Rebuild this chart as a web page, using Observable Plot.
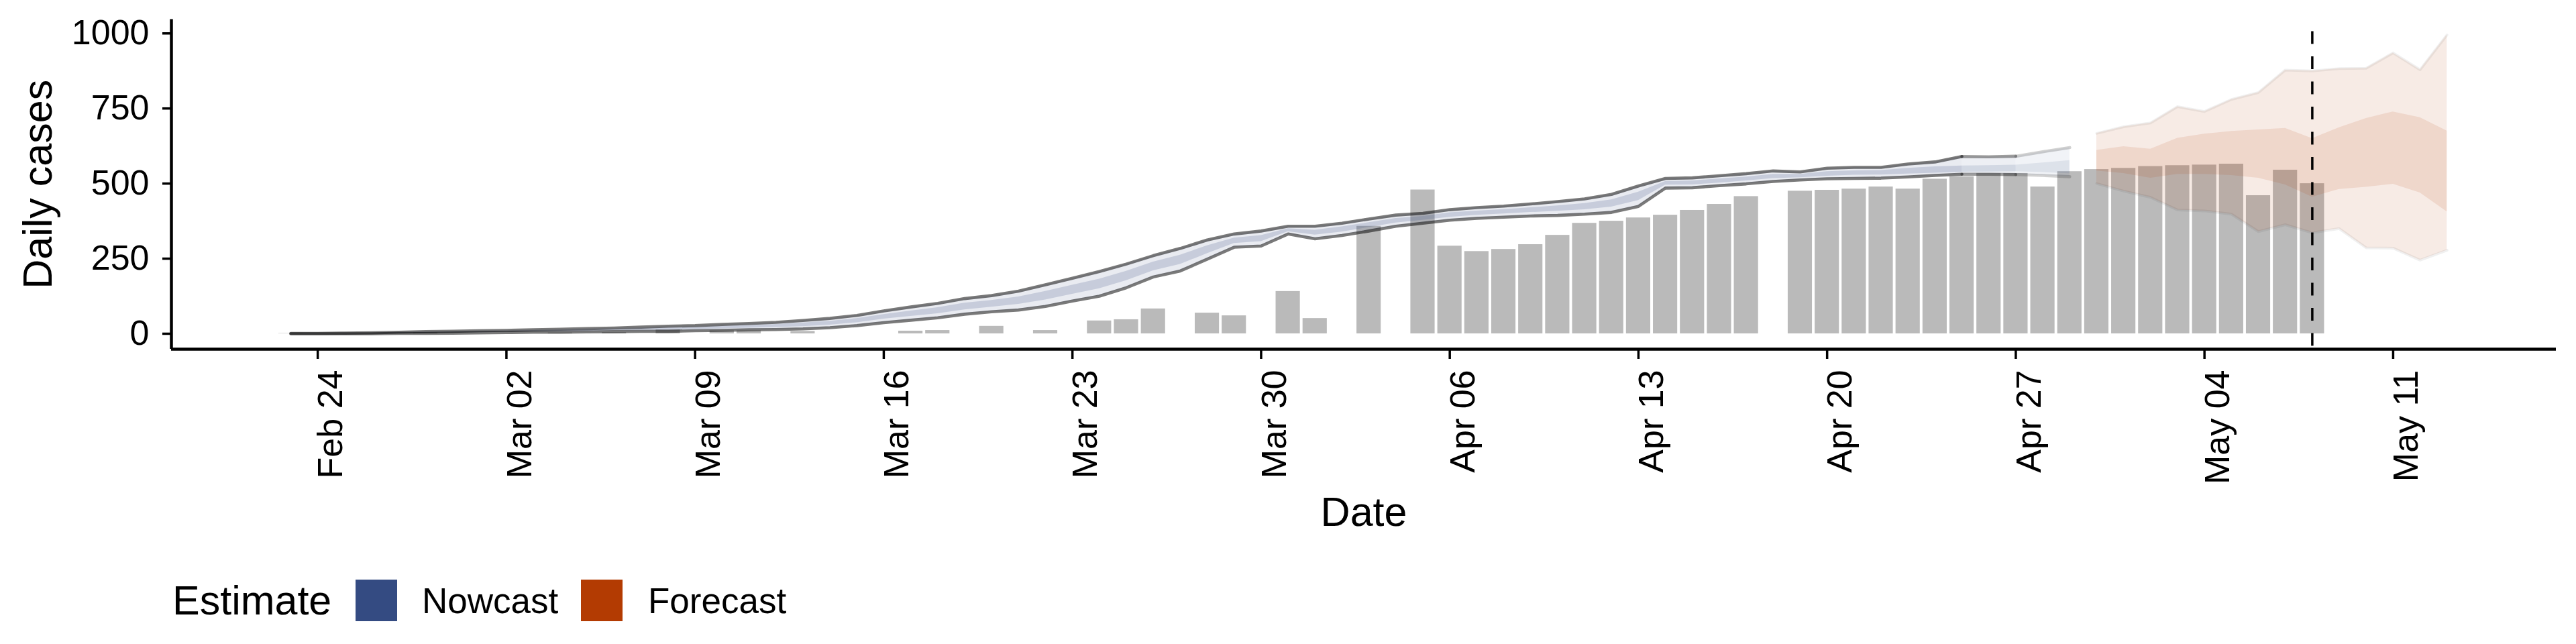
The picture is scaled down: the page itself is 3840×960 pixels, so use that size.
<!DOCTYPE html>
<html>
<head>
<meta charset="utf-8">
<script src="https://cdn.jsdelivr.net/npm/d3@7"></script>
<script src="https://cdn.jsdelivr.net/npm/@observablehq/plot@0.6"></script>
<style>
  html, body { margin: 0; padding: 0; background: #ffffff; }
  #chart { position: relative; width: 3840px; height: 960px; font-family: "Liberation Sans", Arial, sans-serif; color: #000; }
  #legend { position: absolute; left: 0; top: 850px; width: 3840px; height: 110px; }
  #legend .t { position: absolute; white-space: nowrap; line-height: 1; }
  #legend .k { position: absolute; width: 62px; height: 62px; }
</style>
</head>
<body>
<div id="chart"></div>
<script>
// ---------------- data ----------------
const barDates = [
  "2020-02-23","2020-02-28","2020-03-04","2020-03-06","2020-03-08","2020-03-10","2020-03-11","2020-03-13",
  "2020-03-17","2020-03-18","2020-03-20","2020-03-22","2020-03-24","2020-03-25","2020-03-26","2020-03-28",
  "2020-03-29","2020-03-31","2020-04-01","2020-04-03","2020-04-05","2020-04-06","2020-04-07","2020-04-08",
  "2020-04-09","2020-04-10","2020-04-11","2020-04-12","2020-04-13","2020-04-14","2020-04-15","2020-04-16",
  "2020-04-17","2020-04-19","2020-04-20","2020-04-21","2020-04-22","2020-04-23","2020-04-24","2020-04-25",
  "2020-04-26","2020-04-27","2020-04-28","2020-04-29","2020-04-30","2020-05-01","2020-05-02","2020-05-03",
  "2020-05-04","2020-05-05","2020-05-06","2020-05-07","2020-05-08"
];
const barCases = [
  1, 3, 3, 4, 13, 10, 10, 8,
  9, 11, 25, 11, 43, 47, 83, 69,
  60, 141, 51, 358, 479, 292, 274, 281,
  297, 328, 368, 375, 386, 395, 411, 431,
  457, 475, 478, 482, 489, 482, 515, 523,
  534, 534, 489, 540, 547, 551, 557, 560,
  562, 565, 460, 545, 500
];

// Nowcast: one value per day from nowcastStart (Feb 23) to Apr 29
const nowcastStart = "2020-02-23";
const nowHi90 = [1,1,2,3,5,7,8,10,11,13, 15,17,19,22,25,27,31,34,38,44, 51,61,76,89,101,117,127,142,163,185,
  207,232,260,284,312,332,342,358,358,368, 382,395,401,413,420,425,432,440,449,464, 492,517,519,526,533,542,539,551,554,554,
  565,572,590,589,591,606,620];
const nowLo90 = [0,0,0,0,1,1,2,3,4,5, 5,6,7,8,8,10,11,13,14,16, 20,27,37,45,53,65,73,79,91,109,
  125,153,189,209,248,288,292,332,316,327, 342,358,368,378,384,388,392,394,398,404, 424,485,486,493,499,507,512,516,517,518,
  522,527,531,531,530,527,523];
const nowHi50 = [1,1,1,2,4,5,6,8,9,11, 12,14,15,18,20,22,25,28,31,36, 42,51,64,76,87,102,111,123,141,162,
  182,208,239,262,293,319,327,350,345,356, 370,384,391,403,409,414,420,426,434,446, 472,507,509,516,522,531,531,540,543,544,
  551,556,559,560,562,569,577];
const nowLo50 = [0,0,1,1,2,3,4,5,6,7, 8,9,11,12,13,15,17,19,21,24, 29,37,49,58,67,80,89,98,113,132,
  150,177,210,231,267,301,307,340,329,339, 354,369,378,388,395,399,404,408,413,422, 444,495,496,502,509,517,520,525,528,529,
  532,535,538,539,540,537,533];
// estimate / partial-data segments of the nowcast (date ranges)
const nowSegFrom = ["2020-02-23", "2020-04-25", "2020-04-27"];
const nowSegTo   = ["2020-04-25", "2020-04-27", "2020-04-29"];

// Forecast
const foreDates = ["2020-04-30","2020-05-01","2020-05-02","2020-05-03","2020-05-04","2020-05-05","2020-05-06",
  "2020-05-07","2020-05-08","2020-05-09","2020-05-10","2020-05-11","2020-05-12","2020-05-13"];
const foreHi90 = [667, 689, 702, 756, 740, 780, 803, 878, 875, 883, 884, 935, 879, 995];
const foreLo90 = [500, 475, 454, 412, 409, 398, 340, 363, 336, 350, 286, 285, 245, 278];
const foreHi50 = [611, 623, 615, 651, 665, 674, 679, 684, 650, 686, 717, 739, 720, 675];
const foreLo50 = [542, 534, 518, 531, 531, 527, 518, 496, 455, 481, 488, 498, 469, 406];

const vlineDate = "2020-05-08";
const xTickDates = ["2020-02-24","2020-03-02","2020-03-09","2020-03-16","2020-03-23","2020-03-30",
  "2020-04-06","2020-04-13","2020-04-20","2020-04-27","2020-05-04","2020-05-11"];
const yTicks = [0, 250, 500, 750, 1000];
const legendLabels = ["Nowcast", "Forecast"];

// ---------------- styling ----------------
const BLUE = "#344b82", ORANGE = "#b33b02", BAR = "#bababa";
const segStyle = [
  {outer: 0.11, inner: 0.19, line: 0.52},
  {outer: 0.09, inner: 0.14, line: 0.38},
  {outer: 0.065, inner: 0.1, line: 0.18}
];
const DAY = 864e5;
const parse = s => new Date(s + "T00:00:00Z");
const ref = parse("2020-02-24");
const xDomain = [new Date(+ref - 5.43 * DAY), new Date(+ref + 83.05 * DAY)];
const yDomain = [-51.4, 1046.2];

// ---------------- tables ----------------
const bars = barDates.map((d, i) => ({date: parse(d), cases: barCases[i]}));
const start = parse(nowcastStart);
const nowcast = d3.utcDay.range(start, d3.utcDay.offset(start, nowHi90.length)).map((date, i) => ({
  date, hi90: nowHi90[i], lo90: nowLo90[i], hi50: nowHi50[i], lo50: nowLo50[i]
}));
const forecast = foreDates.map((d, i) => ({
  date: parse(d), hi90: foreHi90[i], lo90: foreLo90[i], hi50: foreHi50[i], lo50: foreLo50[i]
}));

const marks = [
  Plot.rectY(bars, {
    x1: d => new Date(+d.date - 0.45 * DAY),
    x2: d => new Date(+d.date + 0.45 * DAY),
    y1: 0, y2: "cases", fill: BAR
  })
];

nowSegFrom.forEach((f, s) => {
  const a = parse(f), b = parse(nowSegTo[s]);
  const rows = nowcast.filter(r => r.date >= a && r.date <= b);
  const st = segStyle[s];
  marks.push(Plot.areaY(rows, {x: "date", y1: "lo90", y2: "hi90", fill: BLUE, fillOpacity: st.outer}));
  marks.push(Plot.areaY(rows, {x: "date", y1: "lo50", y2: "hi50", fill: BLUE, fillOpacity: st.inner}));
  marks.push(Plot.lineY(rows, {x: "date", y: "hi90", stroke: "black", strokeOpacity: st.line, strokeWidth: 4.6, strokeLinejoin: "round"}));
  marks.push(Plot.lineY(rows, {x: "date", y: "lo90", stroke: "black", strokeOpacity: st.line, strokeWidth: 4.6, strokeLinejoin: "round"}));
});

marks.push(
  Plot.areaY(forecast, {x: "date", y1: "lo90", y2: "hi90", fill: ORANGE, fillOpacity: 0.1}),
  Plot.areaY(forecast, {x: "date", y1: "lo50", y2: "hi50", fill: ORANGE, fillOpacity: 0.11}),
  Plot.lineY(forecast, {x: "date", y: "hi90", stroke: "black", strokeOpacity: 0.06, strokeWidth: 4, strokeLinejoin: "round"}),
  Plot.lineY(forecast, {x: "date", y: "lo90", stroke: "black", strokeOpacity: 0.06, strokeWidth: 4, strokeLinejoin: "round"}),
  Plot.ruleX([parse(vlineDate)], {stroke: "black", strokeWidth: 3.5, strokeDasharray: "19,18.5", strokeDashoffset: 19.7}),
  // axis lines
  Plot.ruleY([yDomain[0]], {stroke: "black", strokeWidth: 4.5}),
  Plot.ruleX([xDomain[0]], {stroke: "black", strokeWidth: 4.5}),
  // y axis
  Plot.axisY({ticks: yTicks, tickSize: 13, tickPadding: 20, fontSize: 52, strokeWidth: 3.5,
    tickFormat: d => String(d), label: null}),
  // x axis ticks
  Plot.axisX({ticks: xTickDates.map(parse), tickSize: 15, strokeWidth: 3.5, tickFormat: () => "", label: null}),
  // x axis labels
  Plot.axisX({ticks: xTickDates.map(parse), tickSize: 0, tickPadding: 31, tickRotate: -90, fontSize: 52,
    tickFormat: d3.utcFormat("%b %d"), label: null, dx: 20}),
  // titles
  Plot.text(["Daily cases"], {text: d => d, frameAnchor: "left", textAnchor: "middle", lineAnchor: "middle",
    rotate: -90, dx: -198.5, fontSize: 61}),
  Plot.text(["Date"], {text: d => d, frameAnchor: "bottom", textAnchor: "middle", lineAnchor: "middle",
    dy: 244, fontSize: 61})
);

const chart = Plot.plot({
  width: 3840,
  height: 850,
  marginLeft: 255,
  marginRight: 30,
  marginTop: 28.6,
  marginBottom: 330,
  x: {type: "utc", domain: xDomain},
  y: {domain: yDomain},
  style: {fontFamily: "'Liberation Sans', Arial, sans-serif", background: "#ffffff", color: "#000000", overflow: "visible"},
  marks
});

const root = document.getElementById("chart");
root.appendChild(chart);

// legend (below the svg)
const legend = document.createElement("div");
legend.id = "legend";
legend.innerHTML = `
  <span class="t" style="left:257px; top:15px; font-size:61px;">Estimate</span>
  <span class="k" style="left:530px; top:14px; background:${BLUE};"></span>
  <span class="t" style="left:629px; top:19px; font-size:53px;">${legendLabels[0]}</span>
  <span class="k" style="left:866px; top:14px; background:${ORANGE};"></span>
  <span class="t" style="left:966px; top:19px; font-size:53px;">${legendLabels[1]}</span>`;
root.appendChild(legend);
</script>
</body>
</html>
